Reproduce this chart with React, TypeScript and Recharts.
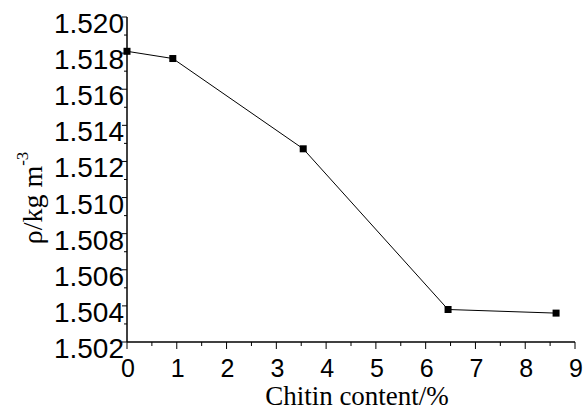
import { LineChart, Line, XAxis, YAxis } from "recharts";

const chitin = [0, 0.92, 3.54, 6.45, 8.62];
const density = [1.5181, 1.5177, 1.5127, 1.5038, 1.5036];

const xTicks = [0, 0.5, 1, 1.5, 2, 2.5, 3, 3.5, 4, 4.5, 5, 5.5, 6, 6.5, 7, 7.5, 8, 8.5, 9];
const yTicks = [
  1.502, 1.503, 1.504, 1.505, 1.506, 1.507, 1.508, 1.509, 1.51, 1.511,
  1.512, 1.513, 1.514, 1.515, 1.516, 1.517, 1.518, 1.519, 1.52,
];

const data = chitin.map((x, i) => ({ x, y: density[i] }));

const SANS = "'Liberation Sans', Arial, sans-serif";
const SERIF = "'Liberation Serif', 'Times New Roman', serif";

const XTick = (props: any) => {
  const { x, y, payload } = props;
  const major = Number.isInteger(payload.value);
  return (
    <g>
      <line x1={x} x2={x} y1={y} y2={y + (major ? 7 : 4)} stroke="#000" strokeWidth={1} />
      {major && (
        <text x={x + 1} y={y + 35} textAnchor="middle" fontSize={25} fontFamily={SANS} fill="#000">
          {payload.value}
        </text>
      )}
    </g>
  );
};

const YTick = (props: any) => {
  const { x, y, payload } = props;
  const major = Math.round(payload.value * 1000) % 2 === 0;
  return (
    <g>
      <line x1={x} x2={x - (major ? 5 : 3)} y1={y} y2={y} stroke="#000" strokeWidth={1} />
      {major && (
        <text x={x - 3} y={y + 16} textAnchor="end" fontSize={28} fontFamily={SANS} fill="#000">
          {payload.value.toFixed(3)}
        </text>
      )}
    </g>
  );
};

const SquareDot = (props: any) => {
  const { cx, cy } = props;
  return <rect x={cx - 3.5} y={cy - 3.5} width={7} height={7} fill="#000" />;
};

export default function App() {
  return (
    <div style={{ position: "absolute", left: 0, top: 0, background: "#fff" }}>
      <LineChart
        width={583}
        height={413}
        data={data}
        margin={{ top: 17, right: 8, bottom: 0, left: 0 }}
      >
        <XAxis
          dataKey="x"
          type="number"
          domain={[0, 9]}
          ticks={xTicks}
          interval={0}
          tickSize={0}
          tickMargin={0}
          tickLine={false}
          tick={<XTick />}
          axisLine={{ stroke: "#000", strokeWidth: 1.5 }}
          height={71}
          label={{
            content: () => (
              <text x={357} y={405} textAnchor="middle" fontSize={27} fontFamily={SERIF} fill="#000">
                Chitin content/%
              </text>
            ),
          }}
        />
        <XAxis
          xAxisId="top"
          orientation="top"
          dataKey="x"
          type="number"
          domain={[0, 9]}
          tick={false}
          tickLine={false}
          height={0}
          axisLine={{ stroke: "#9a9a9a", strokeWidth: 1.5 }}
        />
        <YAxis
          type="number"
          domain={[1.502, 1.52]}
          ticks={yTicks}
          interval={0}
          tickSize={0}
          tickMargin={0}
          tickLine={false}
          tick={<YTick />}
          width={127}
          axisLine={{ stroke: "#000", strokeWidth: 1.5 }}
          label={{
            content: () => (
              <text
                x={42}
                y={198}
                transform="rotate(-90, 42, 198)"
                textAnchor="middle"
                fontSize={28}
                fontFamily={SERIF}
                fill="#000"
              >
                ρ/kg m
                <tspan dy={-14} fontSize={17}>
                  -3
                </tspan>
              </text>
            ),
          }}
        />
        <YAxis
          yAxisId="right"
          orientation="right"
          type="number"
          domain={[1.502, 1.52]}
          tick={false}
          tickLine={false}
          width={0}
          axisLine={{ stroke: "#9a9a9a", strokeWidth: 1.5 }}
        />
        <Line
          type="linear"
          dataKey="y"
          stroke="#000"
          strokeWidth={1}
          dot={<SquareDot />}
          activeDot={false}
          isAnimationActive={false}
        />
      </LineChart>
    </div>
  );
}
